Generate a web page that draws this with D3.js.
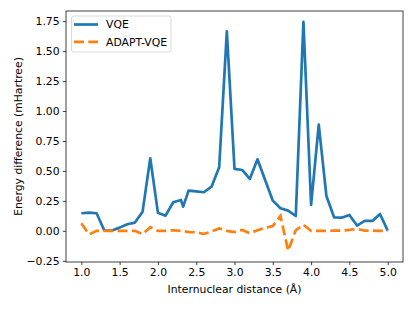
<!DOCTYPE html>
<html>
<head>
<meta charset="utf-8">
<script src="https://cdn.jsdelivr.net/npm/d3@7"></script>
<style>
  body { margin: 0; background: #fff; }
  text { font-family: "DejaVu Sans", sans-serif; }
</style>
</head>
<body>
<script>
// Données
const distances = [1.0, 1.1, 1.2, 1.3, 1.4, 1.5, 1.6, 1.7, 1.8, 1.9,
  2.0, 2.1, 2.2, 2.3, 2.33, 2.4, 2.5, 2.6, 2.7, 2.8, 2.9,
  3.0, 3.1, 3.2, 3.3, 3.4, 3.5, 3.6, 3.7, 3.8, 3.9,
  4.0, 4.1, 4.2, 4.3, 4.4, 4.5, 4.6, 4.7, 4.8, 4.9, 5.0]
const vqe = [0.147, 0.152, 0.147, 0.003, 0.003, 0.027, 0.055, 0.069, 0.16, 0.606,
  0.152, 0.127, 0.239, 0.258, 0.202, 0.336, 0.330, 0.322, 0.369, 0.531, 1.665,
  0.517, 0.508, 0.433, 0.597, 0.425, 0.252, 0.188, 0.169, 0.124, 1.745,
  0.216, 0.886, 0.291, 0.113, 0.110, 0.133, 0.044, 0.083, 0.083, 0.141, 0.002]
const adapt = [0.063, -0.03, 0.0, 0.0, 0.0, 0.0, 0.0, 0.0, -0.028, 0.03,
  0.0, 0.0, 0.005, 0.0, 0.0, -0.01, -0.012, -0.026, -0.005, 0.02, 0.0,
  -0.01, 0.008, -0.02, 0.005, 0.025, 0.04, 0.125, -0.165, 0.005, 0.05,
  0.0, 0.0, 0.0, 0.002, 0.002, 0.008, 0.016, 0.002, 0.002, 0.0, 0.0]
const xTicks = [1.0, 1.5, 2.0, 2.5, 3.0, 3.5, 4.0, 4.5, 5.0]
const yTicks = [-0.25, 0, 0.25, 0.5, 0.75, 1.0, 1.25, 1.5, 1.75]
const seriesNames = ['VQE', 'ADAPT-VQE']

const W = 415, H = 311
const mLeft = 66, mRight = 403, mTop = 11, mBottom = 262
const fs = 10.8

const svg = d3.select('body').append('svg')
  .attr('width', W)
  .attr('height', H)

const x = d3.scaleLinear().domain([0.8, 5.2]).range([mLeft, mRight])
const y = d3.scaleLinear().domain([-0.26, 1.835]).range([mBottom, mTop])

const minus = s => s.replace('-', '\u2212')

// Axes
const xAxis = svg.append('g')
  .attr('transform', `translate(0,${mBottom})`)
  .call(d3.axisBottom(x).tickValues(xTicks).tickFormat(d => minus(d3.format('.1f')(d)))
    .tickSizeInner(3.2).tickSizeOuter(0).tickPadding(3.2))
const yAxis = svg.append('g')
  .attr('transform', `translate(${mLeft},0)`)
  .call(d3.axisLeft(y).tickValues(yTicks).tickFormat(d => minus(d3.format('.2f')(d)))
    .tickSizeInner(3.2).tickSizeOuter(0).tickPadding(3.2))

for (const g of [xAxis, yAxis]) {
  g.select('.domain').remove()
  g.selectAll('.tick line').attr('stroke', '#000').attr('stroke-width', 0.75)
  g.selectAll('.tick text').attr('font-size', fs).attr('fill', '#000')
    .attr('font-family', '"DejaVu Sans", sans-serif')
}

// Courbes
const line = vals => d3.line()
  .x((d, i) => x(distances[i]))
  .y(d => y(d))(vals)

svg.append('path')
  .attr('d', line(vqe))
  .attr('fill', 'none')
  .attr('stroke', '#1f77b4')
  .attr('stroke-width', 2.7)
  .attr('stroke-linejoin', 'round')

svg.append('path')
  .attr('d', line(adapt))
  .attr('fill', 'none')
  .attr('stroke', '#ff7f0e')
  .attr('stroke-width', 2.7)
  .attr('stroke-dasharray', '10,4.3')

// Cadre
svg.append('rect')
  .attr('x', mLeft).attr('y', mTop)
  .attr('width', mRight - mLeft).attr('height', mBottom - mTop)
  .attr('fill', 'none')
  .attr('stroke', '#000')
  .attr('stroke-width', 0.75)

// Titres des axes
svg.append('text')
  .attr('x', (mLeft + mRight) / 2)
  .attr('y', 293)
  .attr('text-anchor', 'middle')
  .attr('font-size', fs)
  .text('Internuclear distance (Å)')

svg.append('text')
  .attr('transform', `translate(22,${(mTop + mBottom) / 2}) rotate(-90)`)
  .attr('text-anchor', 'middle')
  .attr('font-size', fs)
  .text('Energy difference (mHartree)')

// Légende
const legend = svg.append('g')
legend.append('rect')
  .attr('x', 71.5).attr('y', 16)
  .attr('width', 99.5).attr('height', 36)
  .attr('rx', 2.5)
  .attr('fill', '#fff').attr('fill-opacity', 0.8)
  .attr('stroke', '#cccccc').attr('stroke-width', 0.75)

const colors = ['#1f77b4', '#ff7f0e']
seriesNames.forEach((name, i) => {
  const cy = 24.5 + i * 17.4
  legend.append('line')
    .attr('x1', 74).attr('x2', 98)
    .attr('y1', cy).attr('y2', cy)
    .attr('stroke', colors[i])
    .attr('stroke-width', 2.7)
    .attr('stroke-dasharray', i === 1 ? '10,4.3' : null)
  legend.append('text')
    .attr('x', 106).attr('y', cy)
    .attr('dy', '0.35em')
    .attr('font-size', fs)
    .text(name)
})
</script>
</body>
</html>
